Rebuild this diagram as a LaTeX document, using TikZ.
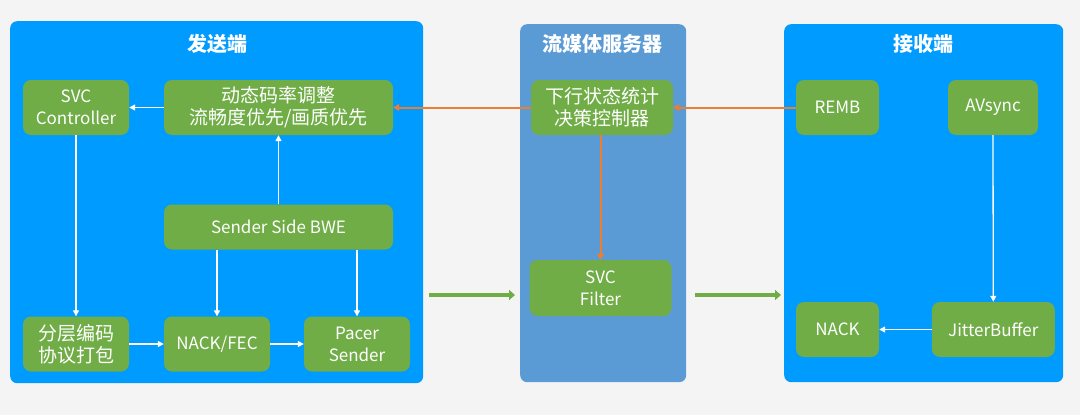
\documentclass[tikz,border=0pt]{standalone}
\usepackage{fontspec}
\setmainfont{Noto Sans CJK SC}
\usetikzlibrary{arrows.meta}
\definecolor{bgc}{HTML}{F4F4F4}
\definecolor{panelblue}{HTML}{009BFF}
\definecolor{srvblue}{HTML}{5B9BD5}
\definecolor{gbox}{HTML}{70AD47}
\definecolor{orng}{HTML}{ED7D31}
\begin{document}
\begin{tikzpicture}[x=1pt,y=-1pt,
  panel/.style={rounded corners=7pt, inner sep=0pt, anchor=north west},
  ttl/.style={text=white, font=\fontsize{20}{24}\selectfont\bfseries, inner sep=0pt},
  gbx/.style={fill=gbox, rounded corners=8pt, text=white, align=center, inner sep=0pt,
    font=\fontsize{17}{22}\selectfont, minimum height=55pt},
  warr/.style={draw=white, line width=1.3pt, -{Triangle[width=6pt,length=6pt]}},
  oarr/.style={draw=orng, line width=2pt, -{Triangle[width=7pt,length=6pt]}},
  garr/.style={draw=gbox, line width=4pt, -{Triangle[width=10pt,length=6pt]}}
]
\useasboundingbox (0,0) rectangle (1080,415);
\fill[bgc] (0,0) rectangle (1080,415);

% panels
\node[panel, fill=panelblue, minimum width=413pt, minimum height=362pt] (lp) at (10,21) {};
\node[panel, fill=srvblue, minimum width=166pt, minimum height=358pt] (mp) at (520,24) {};
\node[panel, fill=panelblue, minimum width=279pt, minimum height=358pt] (rp) at (784,24) {};

\node[ttl] (t1) at (217,44) {发送端};
\node[ttl] (t2) at (602,44) {流媒体服务器};
\node[ttl] (t3) at (923,44) {接收端};

% sender
\node[gbx, minimum width=106pt] (svcc) at (76,107.5) {SVC\\Controller};
\node[gbx, minimum width=229pt, font=\fontsize{19}{22}\selectfont] (rate) at (278.5,107.5) {动态码率调整\\流畅度优先/画质优先};
\node[gbx, minimum width=229pt, minimum height=45pt] (bwe) at (278.5,227) {Sender Side BWE};
\node[gbx, minimum width=106pt, font=\fontsize{19}{22}\selectfont] (layer) at (76,344) {分层编码\\协议打包};
\node[gbx, minimum width=106pt] (nackfec) at (217,344) {NACK/FEC};
\node[gbx, minimum width=106pt] (pacer) at (357,344) {Pacer\\Sender};

% server
\node[gbx, minimum width=142pt, font=\fontsize{19}{22}\selectfont] (ctrl) at (602,107.5) {下行状态统计\\决策控制器};
\node[gbx, minimum width=142pt, minimum height=56pt] (filter) at (600.5,288) {SVC\\Filter};

% receiver
\node[gbx, minimum width=83pt] (remb) at (837.5,107.5) {REMB};
\node[gbx, minimum width=90pt] (avs) at (993,107.5) {AVsync};
\node[gbx, minimum width=83pt] (nack) at (837.5,329.5) {NACK};
\node[gbx, minimum width=123pt] (jit) at (993.3,329.5) {JitterBuffer};

% white arrows
\draw[warr] (rate.west) -- (svcc.east);
\draw[warr] (bwe.north) -- (rate.south);
\draw[warr] (svcc.south) -- (layer.north);
\draw[warr] (nackfec.north |- bwe.south) -- (nackfec.north);
\draw[warr] (pacer.north |- bwe.south) -- (pacer.north);
\draw[warr] (layer.east) -- (nackfec.west);
\draw[warr] (nackfec.east) -- (pacer.west);
\draw[warr] (avs.south) -- (jit.north);
\draw[warr] (jit.west) -- (nack.east);

% orange arrows
\draw[oarr] (ctrl.west) -- (rate.east);
\draw[oarr] (remb.west) -- (ctrl.east);
\draw[oarr] (filter.north |- ctrl.south) -- (filter.north);

% green arrows
\coordinate (g1a) at (429,295);
\coordinate (g1b) at (515,295);
\coordinate (g2a) at (695,295);
\coordinate (g2b) at (781,295);
\draw[garr] (g1a) -- (g1b);
\draw[garr] (g2a) -- (g2b);
\end{tikzpicture}
\end{document}
